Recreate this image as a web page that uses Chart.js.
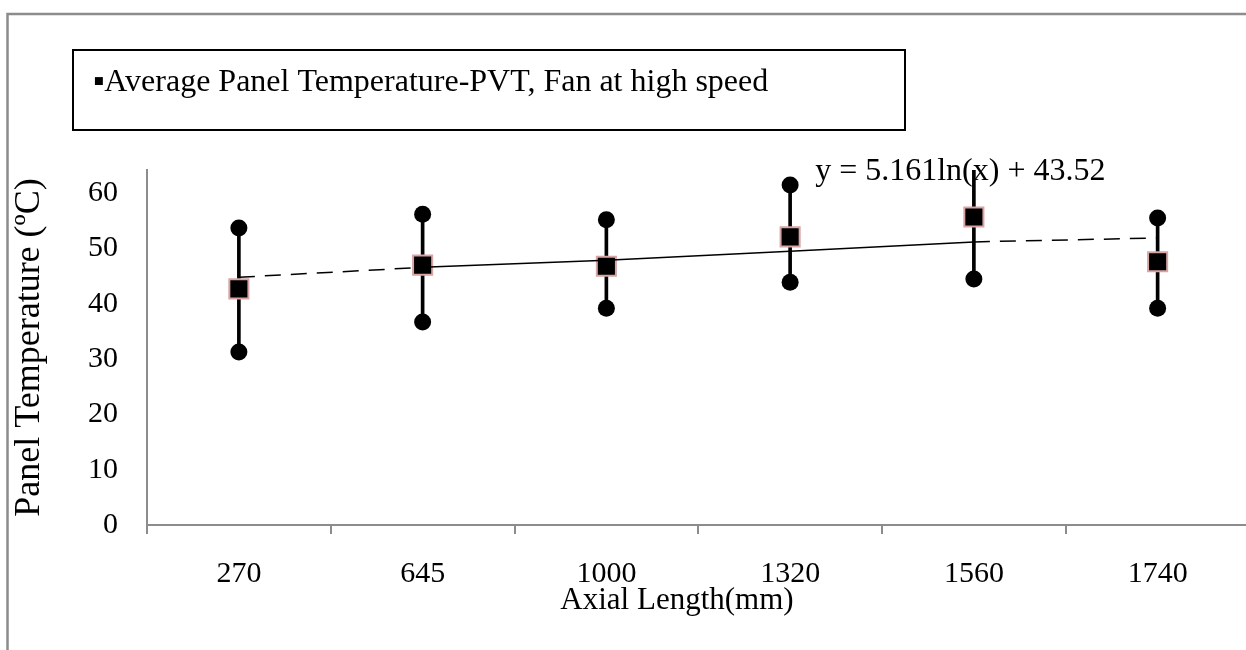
<!DOCTYPE html>
<html>
<head>
<meta charset="utf-8">
<script src="https://cdn.jsdelivr.net/npm/chart.js@4.4.1/dist/chart.umd.min.js"></script>
<style>
  html, body { margin: 0; padding: 0; background: #fff; overflow: hidden; }
  #wrap { position: relative; width: 1265px; height: 650px; }
</style>
</head>
<body>
<div id="wrap"><canvas id="chart"></canvas></div>
<script>
// ---- Data ----
const categories = ['270', '645', '1000', '1320', '1560', '1740'];
const meanTemp = [42.7, 47.0, 46.8, 52.1, 55.7, 47.6];
const upperTemp = [53.7, 56.2, 55.2, 61.5, 66.9, 55.5];
const lowerTemp = [31.3, 36.7, 39.2, 43.9, 44.5, 39.2];
const trendTemp = [44.8, 46.6, 47.9, 49.5, 51.2, 51.9];

const legendText = '▪Average Panel Temperature-PVT, Fan at high speed';
const trendLabel = 'y = 5.161ln(x) + 43.52';
const xTitle = 'Axial Length(mm)';
const yTitle = 'Panel Temperature (ºC)';

const FONT = '"Liberation Serif", "Times New Roman", serif';
const axisGrey = '#8c8c8c';

Chart.defaults.font.family = FONT;
Chart.defaults.color = '#000';

// ---- Frame, legend box, equation and x title ----
const decor = {
  id: 'decor',
  beforeDraw(chart) {
    const ctx = chart.ctx;
    ctx.save();
    ctx.strokeStyle = axisGrey;
    ctx.lineWidth = 2.5;
    ctx.strokeRect(7.5, 14, chart.width + 40, chart.height + 40);
    ctx.restore();
  },
  afterDraw(chart) {
    const { ctx, chartArea, scales } = chart;
    ctx.save();
    ctx.fillStyle = '#000';

    // legend box
    ctx.strokeStyle = '#000';
    ctx.lineWidth = 2;
    ctx.strokeRect(73, 50, 832, 80);
    ctx.font = '32px ' + FONT;
    ctx.textBaseline = 'alphabetic';
    ctx.textAlign = 'left';
    ctx.fillText(legendText, 93, 91);

    // trendline equation, near the 1320 / 1560 points
    ctx.fillText(trendLabel, scales.x.getPixelForValue(3) + 25, chartArea.top + 10);

    // x axis title
    ctx.font = '31px ' + FONT;
    ctx.textAlign = 'center';
    ctx.fillText(xTitle, 677, 609);
    ctx.restore();
  }
};

new Chart(document.getElementById('chart'), {
  data: {
    labels: categories,
    datasets: [
      {
        type: 'line', label: 'trend', data: trendTemp,
        borderColor: '#000', borderWidth: 1.5, pointRadius: 0, fill: false,
        segment: { borderDash: c => (c.p0DataIndex === 0 || c.p0DataIndex === 4) ? [16, 10] : undefined },
        order: 1
      },
      {
        type: 'line', label: 'mean', data: meanTemp, showLine: false,
        pointStyle: 'rect', pointRadius: 13.5,
        pointBackgroundColor: '#000', pointBorderColor: '#d8a4a4', pointBorderWidth: 2,
        order: 2
      },
      {
        type: 'line', label: 'upper', data: upperTemp, showLine: false,
        pointRadius: 8.5, pointBackgroundColor: '#000', pointBorderWidth: 0, clip: 0,
        order: 3
      },
      {
        type: 'line', label: 'lower', data: lowerTemp, showLine: false,
        pointRadius: 8.5, pointBackgroundColor: '#000', pointBorderWidth: 0, clip: 0,
        order: 3
      },
      {
        type: 'bar', label: 'range', data: lowerTemp.map((lo, i) => [lo, upperTemp[i]]),
        backgroundColor: '#000', barThickness: 3, clip: 0,
        order: 5
      }
    ]
  },
  options: {
    responsive: true,
    maintainAspectRatio: false,
    animation: false,
    events: [],
    layout: { padding: { top: 170, left: 0, right: 0, bottom: 0 } },
    plugins: { legend: { display: false }, tooltip: { enabled: false } },
    scales: {
      x: {
        type: 'category',
        offset: true,
        grid: { offset: true, drawOnChartArea: false, drawTicks: true, tickLength: 9, color: axisGrey, lineWidth: 2 },
        border: { display: true, color: axisGrey, width: 2 },
        ticks: { font: { size: 30 }, padding: 22, maxRotation: 0, autoSkip: false },
        afterFit(scale) { scale.height = 125; }
      },
      y: {
        min: 0, max: 64.2,
        grid: { drawOnChartArea: false, drawTicks: false, color: axisGrey },
        border: { display: true, color: axisGrey, width: 2 },
        ticks: { stepSize: 10, includeBounds: false, font: { size: 30 }, padding: 29 },
        title: { display: true, text: yTitle, font: { size: 36 }, padding: { top: 8 } },
        afterFit(scale) { scale.width = 147; }
      }
    }
  },
  plugins: [decor]
});
</script>
</body>
</html>
